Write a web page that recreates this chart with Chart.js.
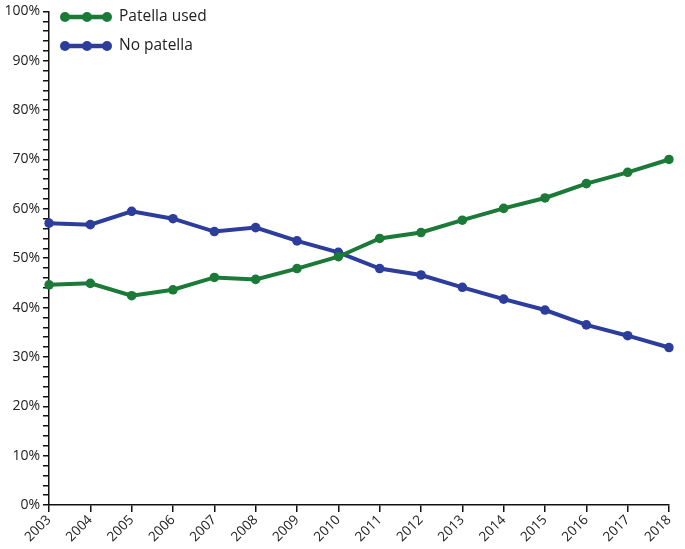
<!DOCTYPE html>
<html>
<head>
<meta charset="utf-8">
<script src="https://cdn.jsdelivr.net/npm/chart.js@4/dist/chart.umd.min.js"></script>
<style>
  html, body { margin: 0; padding: 0; background: #fff; }
  #wrap { width: 685px; height: 549px; position: relative; }
</style>
</head>
<body>
<div id="wrap"><canvas id="chart"></canvas></div>
<script>
// Years on the x axis
const years = ['2003', '2004', '2005', '2006', '2007', '2008', '2009', '2010',
               '2011', '2012', '2013', '2014', '2015', '2016', '2017', '2018'];

// Share of procedures (%)
const patellaUsed = [44.6, 44.9, 42.4, 43.6, 46.1, 45.7, 47.9, 50.3,
                     54.0, 55.2, 57.7, 60.1, 62.2, 65.1, 67.4, 70.0];
const noPatella = [57.1, 56.8, 59.5, 58.0, 55.4, 56.2, 53.5, 51.2,
                   47.9, 46.6, 44.1, 41.7, 39.5, 36.5, 34.3, 31.9];

const seriesNames = ['Patella used', 'No patella'];
const GREEN = '#1b7a38';
const BLUE = '#2c3d9b';
const FONT = '"Open Sans", sans-serif';

// Legend drawn as a line with three dots, like the original
const lineLegend = {
    id: 'lineLegend',
    afterDraw(chart) {
        const ctx = chart.ctx;
        ctx.save();
        chart.data.datasets.forEach((ds, i) => {
            const y = 17 + i * 29;
            ctx.strokeStyle = ds.borderColor;
            ctx.fillStyle = ds.borderColor;
            ctx.lineWidth = 4.5;
            ctx.beginPath();
            ctx.moveTo(64, y);
            ctx.lineTo(107, y);
            ctx.stroke();
            [65, 87, 107].forEach(x => {
                ctx.beginPath();
                ctx.arc(x, y, 5, 0, Math.PI * 2);
                ctx.fill();
            });
            ctx.fillStyle = '#222';
            ctx.font = '15.5px ' + FONT;
            ctx.textBaseline = 'middle';
            ctx.fillText(ds.label, 119, y);
        });
        ctx.restore();
    }
};

new Chart(document.getElementById('chart'), {
    type: 'line',
    data: {
        labels: years,
        datasets: [
            { label: seriesNames[0], data: patellaUsed, borderColor: GREEN, backgroundColor: GREEN,
              borderWidth: 4, pointRadius: 4.8, pointBorderWidth: 0, pointHoverRadius: 4.8, tension: 0 },
            { label: seriesNames[1], data: noPatella, borderColor: BLUE, backgroundColor: BLUE,
              borderWidth: 4, pointRadius: 4.8, pointBorderWidth: 0, pointHoverRadius: 4.8, tension: 0 }
        ]
    },
    options: {
        responsive: true,
        maintainAspectRatio: false,
        animation: false,
        layout: { padding: { top: 11, right: 16, left: 0, bottom: 0 } },
        plugins: { legend: { display: false }, tooltip: { enabled: false } },
        scales: {
            x: {
                offset: false,
                border: { display: true, color: '#111', width: 1.5 },
                grid: { display: true, drawOnChartArea: false, drawTicks: true, tickLength: 7, color: '#111', lineWidth: 1.5 },
                ticks: { color: '#222', font: { family: FONT, size: 13.5 }, minRotation: 45, maxRotation: 45, padding: 0, autoSkip: false },
                afterFit(scale) { scale.height = 44; }
            },
            y: {
                min: 0,
                max: 100,
                border: { display: true, color: '#111', width: 1.5 },
                grid: { display: true, drawOnChartArea: false, drawTicks: true, tickLength: 6, color: '#111', lineWidth: 1.5 },
                ticks: {
                    stepSize: 2,
                    autoSkip: false,
                    color: '#222',
                    font: { family: FONT, size: 14 },
                    padding: 3,
                    callback: v => (v % 10 === 0 ? v + '%' : '')
                },
                afterFit(scale) { scale.width = 49; }
            }
        }
    },
    plugins: [lineLegend]
});
</script>
</body>
</html>
